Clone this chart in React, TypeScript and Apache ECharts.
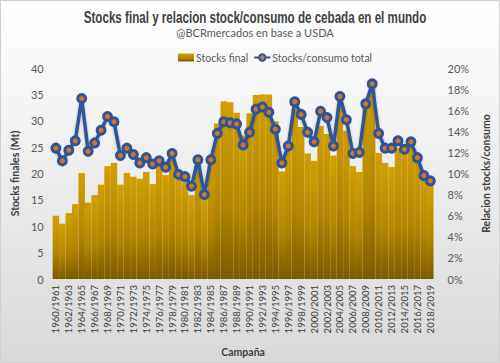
import React, { useEffect, useRef } from "react";
import * as echarts from "echarts";

const campaigns: string[] = [];
for (let y = 1960; y <= 2018; y++) campaigns.push(`${y}/${y + 1}`);

const stocksFinal = [
  12.0, 10.5, 12.5, 14.2, 20.1, 14.5, 15.9, 17.9, 21.4, 22.0,
  17.9, 20.1, 19.4, 19.0, 20.3, 18.0, 21.5, 19.7, 22.7, 18.8,
  18.3, 15.9, 22.4, 15.5, 22.5, 29.5, 33.7, 33.5, 31.5, 27.2,
  31.4, 34.9, 35.0, 35.0, 29.9, 20.4, 24.3, 32.2, 28.8, 23.8,
  22.4, 29.0, 27.5, 23.4, 33.1, 28.1, 21.4, 20.3, 33.3, 37.0,
  23.9, 22.0, 21.2, 24.8, 24.6, 25.1, 23.1, 19.3, 17.9,
];

const stocksConsumo = [
  12.4, 11.2, 12.2, 13.1, 17.1, 12.1, 12.9, 14.1, 15.4, 14.9,
  11.7, 12.4, 11.8, 11.0, 11.5, 10.9, 11.2, 10.6, 11.9, 9.9,
  9.7, 8.8, 11.3, 8.0, 11.3, 13.8, 14.9, 14.8, 14.7, 12.7,
  13.9, 16.1, 16.3, 15.8, 14.2, 11.0, 12.6, 16.8, 15.6, 13.9,
  13.0, 15.9, 15.3, 12.6, 17.3, 15.1, 11.9, 12.0, 16.6, 18.5,
  13.8, 12.4, 12.4, 13.1, 12.3, 13.0, 11.5, 9.8, 9.3,
];

const TITLE = "Stocks final y relacion stock/consumo de cebada en el mundo";
const SUBTITLE = "@BCRmercados en base a USDA";
const FONT = "Lato, 'Open Sans', sans-serif";
const TITLE_FONT = "bold 16px 'Liberation Sans', Arial, sans-serif";

function measure(text: string, font: string): number {
  const c = document.createElement("canvas").getContext("2d");
  if (!c) return 470;
  c.font = font;
  return c.measureText(text).width || 470;
}

export default function App() {
  const ref = useRef<HTMLDivElement>(null);
  useEffect(() => {
    document.body.style.margin = "0";
    if (!ref.current) return;
    const chart = echarts.init(ref.current, undefined, { renderer: "svg" });
    const titleScale = 343 / measure(TITLE, TITLE_FONT);
    chart.setOption({
      animation: false,
      textStyle: { fontFamily: FONT },
      graphic: [
        {
          type: "text",
          x: 254,
          y: 16,
          scaleX: titleScale,
          scaleY: 1,
          style: {
            text: TITLE,
            font: TITLE_FONT,
            fill: "#404040",
            align: "center",
            verticalAlign: "middle",
          },
        },
        {
          type: "text",
          x: 254,
          y: 31,
          style: {
            text: SUBTITLE,
            fontFamily: FONT,
            fontSize: 11,
            fill: "#595959",
            align: "center",
            verticalAlign: "middle",
          },
        },
      ],
      legend: {
        top: 46,
        left: 172,
        itemGap: 5,
        itemWidth: 16,
        itemHeight: 8,
        textStyle: { fontSize: 10.5, color: "#595959", fontFamily: FONT, padding: [0, 0, 0, -3] },
        data: [
          { name: "Stocks final", icon: "rect" },
          { name: "Stocks/consumo total" },
        ],
      },
      grid: { left: 47, right: 52, top: 67, bottom: 78 },
      xAxis: {
        type: "category",
        data: campaigns,
        name: "Campaña",
        nameLocation: "middle",
        nameGap: 67,
        nameTextStyle: { fontWeight: "bold", fontSize: 10.5, color: "#404040", fontFamily: FONT },
        axisLine: { show: false },
        axisTick: { show: false },
        axisLabel: {
          rotate: 90,
          interval: 1,
          fontSize: 9.5,
          color: "#404040",
          margin: 6,
          fontFamily: FONT,
        },
      },
      yAxis: [
        {
          type: "value",
          min: 0,
          max: 40,
          interval: 5,
          name: "Stocks finales (Mt)",
          nameLocation: "middle",
          nameGap: 30,
          nameTextStyle: { fontWeight: "bold", fontSize: 10.5, color: "#404040", fontFamily: FONT },
          splitLine: { show: false },
          axisLine: { show: false },
          axisTick: { show: false },
          axisLabel: { fontSize: 11, color: "#595959", margin: 9, fontFamily: FONT },
        },
        {
          type: "value",
          min: 0,
          max: 20,
          interval: 2,
          position: "right",
          name: "Relacion stocks/consumo",
          nameLocation: "middle",
          nameGap: 40,
          nameTextStyle: { fontWeight: "bold", fontSize: 10.5, color: "#404040", fontFamily: FONT },
          splitLine: { show: false },
          axisLine: { show: false },
          axisTick: { show: false },
          axisLabel: { fontSize: 11, color: "#595959", margin: 14, formatter: "{value}%", fontFamily: FONT },
        },
      ],
      series: [
        {
          name: "Stocks final",
          type: "bar",
          data: stocksFinal,
          barCategoryGap: "0%",
          itemStyle: {
            color: new echarts.graphic.LinearGradient(0, 0, 0, 1, [
              { offset: 0, color: "#d19f00" },
              { offset: 0.6, color: "#b08400" },
              { offset: 1, color: "#7b5a00" },
            ]),
          },
        },
        {
          name: "Stocks/consumo total",
          type: "line",
          yAxisIndex: 1,
          data: stocksConsumo,
          symbol: "circle",
          symbolSize: 8,
          showSymbol: true,
          showAllSymbol: true,
          z: 5,
          lineStyle: {
            color: "#2f5597",
            width: 3.5,
            shadowColor: "rgba(0,0,0,0.25)",
            shadowBlur: 3,
            shadowOffsetY: 1,
          },
          itemStyle: { color: "#d8742a", borderColor: "#2f5597", borderWidth: 3 },
        },
      ],
    });
    return () => chart.dispose();
  }, []);
  return (
    <div
      ref={ref}
      style={{
        width: 500,
        height: 363,
        boxSizing: "border-box",
        border: "1px solid #d0d0d0",
        background: "linear-gradient(#ffffff 0%, #f2f2f2 35%, #d9d9d9 100%)",
      }}
    />
  );
}
